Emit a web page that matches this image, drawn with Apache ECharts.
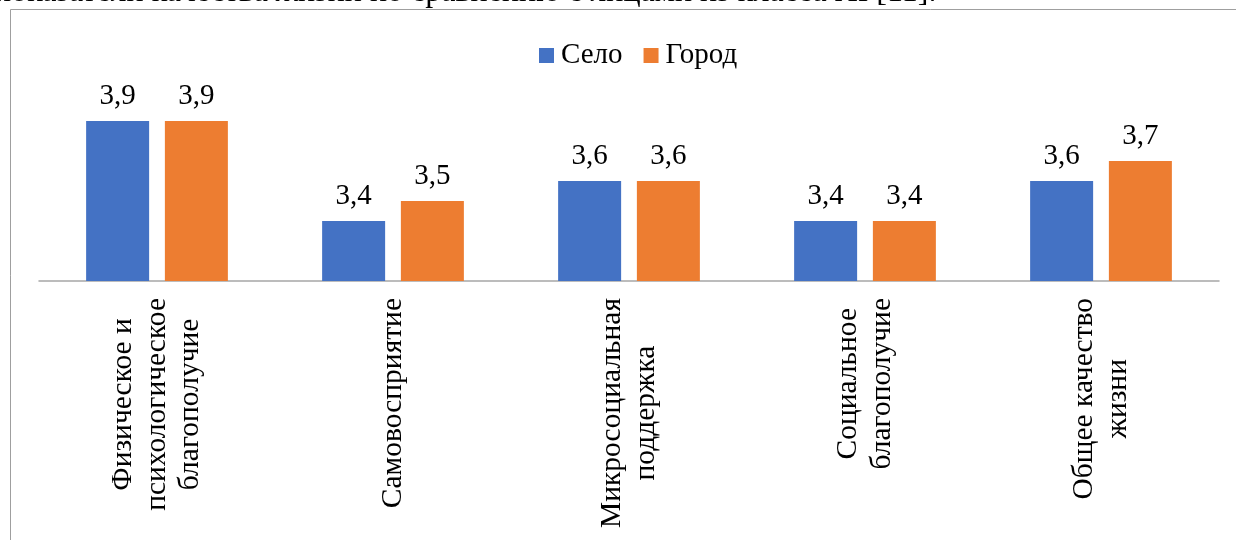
<!DOCTYPE html>
<html>
<head>
<meta charset="utf-8">
<script src="https://cdn.jsdelivr.net/npm/echarts@6/dist/echarts.min.js"></script>
<style>
html,body{margin:0;padding:0;background:#fff;}
#main{width:1236px;height:540px;}
</style>
</head>
<body>
<div id="main"></div>
<script>
const categories = [
  'Физическое и\nпсихологическое\nблагополучие',
  'Самовосприятие',
  'Микросоциальная\nподдержка',
  'Социальное\nблагополучие',
  'Общее качество\nжизни'
];
const seriesNames = ['Село', 'Город'];
const selo = [3.9, 3.4, 3.6, 3.4, 3.6];
const gorod = [3.9, 3.5, 3.6, 3.4, 3.7];
const colors = ['#4472C4', '#ED7D31'];
const captionText = 'показатели качества жизни по сравнению с лицами из класса XI [11].';

const FONT = '"Liberation Serif", "Times New Roman", serif';
const chart = echarts.init(document.getElementById('main'), null, {renderer: 'canvas'});

function fmtVal(p) { return String(p.value).replace('.', ','); }

const mkSeries = (name, data, color) => ({
  name: name,
  type: 'bar',
  data: data,
  barWidth: 63,
  barGap: '25%',
  itemStyle: { color: color },
  label: {
    show: true,
    position: 'top',
    distance: 10,
    formatter: fmtVal,
    fontFamily: FONT,
    fontSize: 29,
    color: '#000'
  }
});

chart.setOption({
  animation: false,
  backgroundColor: '#fff',
  textStyle: { fontFamily: FONT },
  graphic: [
    {
      type: 'rect',
      shape: { x: 10.5, y: 9.5, width: 1400, height: 700 },
      style: { fill: 'transparent', stroke: '#9f9f9f', lineWidth: 1 },
      silent: true, z: -10
    },
    {
      type: 'text',
      left: -6, top: -23,
      style: { text: captionText, font: '32px ' + FONT, fill: '#000' },
      silent: true
    }
  ],
  legend: {
    data: seriesNames,
    left: 534,
    top: 36,
    itemWidth: 15,
    itemHeight: 15,
    itemGap: 21,
    icon: 'rect',
    textStyle: { fontFamily: FONT, fontSize: 29, color: '#000', padding: [0, 0, 0, 2] }
  },
  grid: { left: 39, right: 17, top: 101, bottom: 259, containLabel: false, outerBoundsMode: 'none' },
  xAxis: {
    type: 'category',
    data: categories,
    axisLine: { show: true, lineStyle: { color: '#a6a6a6', width: 1.5 } },
    axisTick: { show: false },
    axisLabel: {
      interval: 0,
      rotate: 90,
      margin: 17,
      color: '#000',
      fontFamily: FONT,
      fontSize: 29.5,
      lineHeight: 33.5,
      formatter: function (v) {
        return v.split('\n').map(function (s) { return '{c|' + s + '}'; }).join('\n');
      },
      rich: {
        c: { align: 'center', fontFamily: FONT, fontSize: 29.5, lineHeight: 33.5, color: '#000' }
      }
    }
  },
  yAxis: {
    type: 'value',
    min: 3.1,
    max: 4.0,
    show: false,
    splitLine: { show: false }
  },
  series: [
    mkSeries(seriesNames[0], selo, colors[0]),
    mkSeries(seriesNames[1], gorod, colors[1])
  ]
});
</script>
</body>
</html>
